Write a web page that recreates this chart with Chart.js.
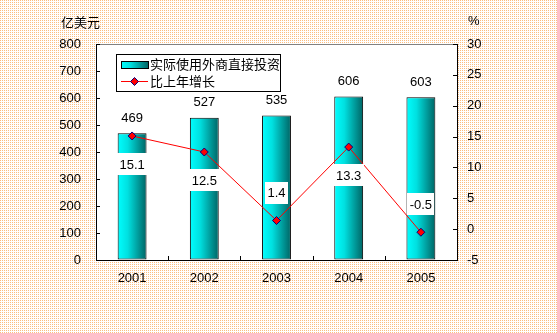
<!DOCTYPE html>
<html>
<head>
<meta charset="utf-8">
<script src="https://cdn.jsdelivr.net/npm/chart.js@4/dist/chart.umd.min.js"></script>
<style>
  html, body { margin: 0; padding: 0; background: #fff; }
  #wrap { width: 557px; height: 333px; position: relative; }
</style>
</head>
<body>
<div id="wrap"><canvas id="fdiChart" width="557" height="333"></canvas></div>
<script>
// Actual FDI used (亿美元) and year-on-year growth (%)
const years = ['2001', '2002', '2003', '2004', '2005'];
const fdiValues = [469, 527, 535, 606, 603];
const growthValues = [15.1, 12.5, 1.4, 13.3, -0.5];
const growthLabelPos = ['below', 'below', 'above', 'below', 'above'];
const leftTicks = [0, 100, 200, 300, 400, 500, 600, 700, 800];
const rightTicks = [-5, 0, 5, 10, 15, 20, 25, 30];

const barName = '实际使用外商直接投资';
const lineName = '比上年增长';
const FONT = 'Arial, "Liberation Sans", "Noto Sans CJK SC", sans-serif';
const CJK_FONT = '"Noto Sans CJK SC", sans-serif';

function barGradient(ctx, x0, x1) {
    const g = ctx.createLinearGradient(x0, 0, x1, 0);
    g.addColorStop(0, '#00ffff');
    g.addColorStop(0.35, '#00e0e0');
    g.addColorStop(1, '#006464');
    return g;
}

// page background: orange dot pattern, plot area white
const backdrop = {
    id: 'backdrop',
    beforeDraw(chart) {
        const { ctx, chartArea: a } = chart;
        const tile = document.createElement('canvas');
        tile.width = 2; tile.height = 2;
        const tctx = tile.getContext('2d');
        tctx.fillStyle = '#ffffff';
        tctx.fillRect(0, 0, 2, 2);
        tctx.fillStyle = '#fbbd80';
        tctx.fillRect(0, 0, 1, 1);
        ctx.save();
        ctx.fillStyle = ctx.createPattern(tile, 'repeat');
        ctx.fillRect(0, 0, chart.width, chart.height);
        ctx.fillStyle = '#ffffff';
        ctx.fillRect(a.left, a.top, a.right - a.left, a.bottom - a.top);
        ctx.restore();
    },
    afterDraw(chart) {
        const { ctx, chartArea: a, scales } = chart;
        ctx.save();
        ctx.lineWidth = 1;
        // gray top edge of the plot frame
        ctx.strokeStyle = '#808080';
        ctx.beginPath();
        ctx.moveTo(a.left, a.top + 0.5);
        ctx.lineTo(a.right, a.top + 0.5);
        ctx.stroke();
        // inward tick marks
        ctx.strokeStyle = '#000';
        ctx.beginPath();
        leftTicks.forEach(v => {
            const y = Math.round(scales.y.getPixelForValue(v)) + 0.5;
            ctx.moveTo(a.left, y); ctx.lineTo(a.left + 4, y);
        });
        rightTicks.forEach(v => {
            const y = Math.round(scales.y1.getPixelForValue(v)) + 0.5;
            ctx.moveTo(a.right, y); ctx.lineTo(a.right - 4, y);
        });
        for (let i = 1; i < years.length; i++) {
            const x = Math.round((scales.x.getPixelForValue(i - 1) + scales.x.getPixelForValue(i)) / 2) + 0.5;
            ctx.moveTo(x, a.bottom); ctx.lineTo(x, a.bottom - 4);
        }
        ctx.stroke();
        ctx.restore();
    }
};

// value labels: bar values on top, growth in white boxes
const labels = {
    id: 'labels',
    afterDatasetsDraw(chart) {
        const { ctx } = chart;
        ctx.save();
        ctx.font = '13px ' + FONT;
        ctx.textAlign = 'center';
        ctx.textBaseline = 'middle';
        ctx.fillStyle = '#000';
        chart.getDatasetMeta(0).data.forEach((bar, i) => {
            ctx.fillText(String(fdiValues[i]), bar.x, bar.y - 15);
        });
        chart.getDatasetMeta(1).data.forEach((pt, i) => {
            const txt = growthValues[i].toFixed(1);
            const w = ctx.measureText(txt).width + 5;
            const h = 22;
            const cy = growthLabelPos[i] === 'below' ? pt.y + 28 : pt.y - 28;
            ctx.fillStyle = '#fff';
            ctx.fillRect(Math.round(pt.x - w / 2), Math.round(cy - h / 2), Math.round(w), h);
            ctx.fillStyle = '#000';
            ctx.fillText(txt, pt.x, cy + 1);
        });
        ctx.restore();
    },
    afterDraw(chart) {
        const { ctx, chartArea: a } = chart;
        ctx.save();
        // axis titles
        ctx.fillStyle = '#000';
        ctx.textBaseline = 'middle';
        ctx.font = '13px ' + CJK_FONT;
        ctx.textAlign = 'left';
        ctx.fillText('亿美元', 61, 22);
        ctx.font = '13px ' + FONT;
        ctx.fillText('%', 468, 21);

        // legend box
        const lx = a.left + 20, ly = a.top + 10, lw = 164, lh = 37;
        ctx.fillStyle = '#fff';
        ctx.fillRect(lx, ly, lw, lh);
        ctx.strokeStyle = '#000';
        ctx.lineWidth = 1;
        ctx.strokeRect(lx + 0.5, ly + 0.5, lw, lh);

        // bar swatch
        const sx = lx + 5, sw = 27;
        ctx.fillStyle = barGradient(ctx, sx, sx + sw);
        ctx.fillRect(sx, ly + 7, sw, 7);
        ctx.strokeRect(sx + 0.5, ly + 7.5, sw, 7);
        // line swatch
        const yl = ly + 27.5;
        ctx.strokeStyle = '#ff0000';
        ctx.beginPath();
        ctx.moveTo(sx, yl);
        ctx.lineTo(sx + sw, yl);
        ctx.stroke();
        const cx = sx + sw / 2;
        ctx.beginPath();
        ctx.moveTo(cx, yl - 4); ctx.lineTo(cx + 4, yl); ctx.lineTo(cx, yl + 4); ctx.lineTo(cx - 4, yl);
        ctx.closePath();
        ctx.fillStyle = '#ff0000';
        ctx.fill();
        ctx.strokeStyle = '#000080';
        ctx.stroke();

        ctx.fillStyle = '#000';
        ctx.font = '13px ' + CJK_FONT;
        ctx.textAlign = 'left';
        ctx.fillText(barName, lx + 34, ly + 10);
        ctx.fillText(lineName, lx + 34, ly + 27);
        ctx.restore();
    }
};

const ctx = document.getElementById('fdiChart').getContext('2d');
new Chart(ctx, {
    data: {
        labels: years,
        datasets: [
            {
                type: 'bar',
                label: barName,
                data: fdiValues,
                yAxisID: 'y',
                backgroundColor(c) {
                    const chart = c.chart;
                    if (!chart.chartArea) return '#00cccc';
                    const x = chart.scales.x.getPixelForValue(c.dataIndex);
                    const w = (chart.chartArea.width / years.length) * 0.4;
                    return barGradient(chart.ctx, x - w / 2, x + w / 2);
                },
                borderColor: '#000',
                borderWidth: 1,
                borderSkipped: false,
                barPercentage: 0.4,
                categoryPercentage: 1.0,
                order: 2
            },
            {
                type: 'line',
                label: lineName,
                data: growthValues,
                yAxisID: 'y1',
                borderColor: '#ff0000',
                borderWidth: 1,
                pointStyle: 'rectRot',
                pointRadius: 4,
                pointBackgroundColor: '#ff0000',
                pointBorderColor: '#000080',
                pointBorderWidth: 1,
                tension: 0,
                order: 1
            }
        ]
    },
    options: {
        responsive: false,
        animation: false,
        layout: { padding: { top: 44, left: 0, right: 0, bottom: 0 } },
        plugins: {
            legend: { display: false },
            tooltip: { enabled: false }
        },
        scales: {
            x: {
                offset: true,
                grid: { offset: true, drawOnChartArea: false, drawTicks: false },
                border: { color: '#000', width: 1 },
                ticks: { color: '#000', font: { size: 13, family: FONT }, padding: 11 },
                afterFit(s) { s.height = 73; }
            },
            y: {
                position: 'left',
                min: 0,
                max: 800,
                afterBuildTicks(s) { s.ticks = leftTicks.map(v => ({ value: v })); },
                grid: { drawOnChartArea: false, drawTicks: false },
                border: { color: '#000', width: 1 },
                ticks: { color: '#000', font: { size: 13, family: FONT }, padding: 15 },
                afterFit(s) { s.width = 96; }
            },
            y1: {
                position: 'right',
                min: -5,
                max: 30,
                afterBuildTicks(s) { s.ticks = rightTicks.map(v => ({ value: v })); },
                grid: { drawOnChartArea: false, drawTicks: false },
                border: { color: '#000', width: 1 },
                ticks: { color: '#000', font: { size: 13, family: FONT }, padding: 10 },
                afterFit(s) { s.width = 100; }
            }
        }
    },
    plugins: [backdrop, labels]
});
</script>
</body>
</html>
